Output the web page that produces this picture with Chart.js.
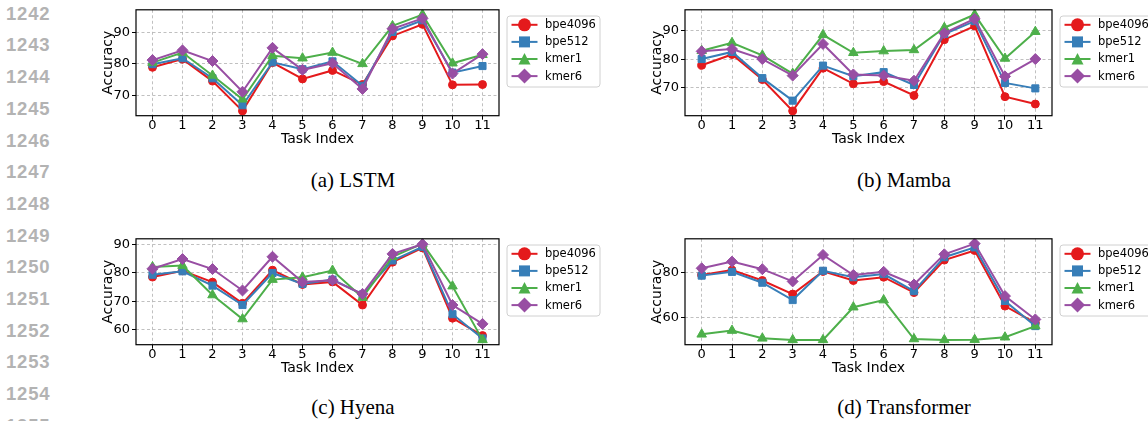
<!DOCTYPE html>
<html>
<head>
<meta charset="utf-8">
<script src="https://cdn.jsdelivr.net/npm/chart.js@4.4.0/dist/chart.umd.min.js"></script>
<style>
  body { margin: 0; background: #fff; width: 1148px; height: 421px; overflow: hidden; position: relative; }
  canvas { position: absolute; }
  .lineno { position: absolute; left: 6px; font: bold 18.5px 'Liberation Sans', sans-serif; letter-spacing: 0.8px; color: #b3b3b3; line-height: 18px; margin-top: -9px; }
  .caption { position: absolute; font: 21px 'Liberation Serif', serif; color: #000; transform: translate(-50%, -50%); white-space: nowrap; }
</style>
</head>
<body>
<canvas id="lstm" width="520" height="150" style="left:90px; top:0px"></canvas>
<canvas id="mamba" width="509" height="150" style="left:639px; top:0px"></canvas>
<canvas id="hyena" width="520" height="150" style="left:90px; top:229px"></canvas>
<canvas id="transformer" width="509" height="150" style="left:639px; top:229px"></canvas>
<div class="caption" style="left:353px; top:180px">(a) LSTM</div>
<div class="caption" style="left:904px; top:180px">(b) Mamba</div>
<div class="caption" style="left:353px; top:407px">(c) Hyena</div>
<div class="caption" style="left:904px; top:407px">(d) Transformer</div>
<script>
// values
const taskIndex = [0, 1, 2, 3, 4, 5, 6, 7, 8, 9, 10, 11];
const seriesNames = ['bpe4096', 'bpe512', 'kmer1', 'kmer6'];

const lstmBpe4096 = [78.9, 81.5, 74.5, 65.0, 80.4, 75.2, 77.9, 73.4, 88.9, 92.6, 73.3, 73.4];
const lstmBpe512  = [79.9, 81.8, 75.4, 66.8, 80.5, 78.3, 80.8, 73.0, 90.2, 93.9, 77.2, 79.3];
const lstmKmer1   = [80.4, 83.6, 76.3, 68.7, 82.6, 81.8, 83.6, 80.0, 92.1, 95.7, 80.2, 82.9];
const lstmKmer6   = [81.2, 84.3, 80.9, 71.1, 85.1, 78.1, 80.2, 72.0, 91.2, 94.5, 76.9, 83.1];

const mambaBpe4096 = [77.9, 81.7, 72.9, 61.9, 76.9, 71.4, 72.2, 67.3, 86.9, 91.7, 66.9, 64.3];
const mambaBpe512  = [80.1, 82.6, 73.4, 65.5, 77.8, 74.1, 75.5, 71.0, 88.9, 93.4, 71.7, 69.8];
const mambaKmer1   = [83.0, 85.8, 81.4, 75.0, 88.6, 82.3, 82.9, 83.3, 91.1, 95.7, 80.3, 89.7];
const mambaKmer6   = [82.8, 83.6, 80.1, 74.3, 85.4, 74.7, 74.3, 72.5, 89.2, 94.2, 74.0, 80.1];

const hyenaBpe4096 = [78.5, 80.7, 76.7, 69.3, 80.9, 75.9, 76.8, 68.7, 83.7, 88.7, 64.1, 58.0];
const hyenaBpe512  = [79.3, 80.5, 75.5, 68.7, 79.9, 76.1, 77.6, 72.4, 84.3, 89.1, 65.5, 57.0];
const hyenaKmer1   = [82.0, 82.5, 72.2, 63.8, 77.6, 78.4, 80.8, 71.3, 85.6, 90.2, 75.3, 56.5];
const hyenaKmer6   = [81.4, 84.8, 81.3, 73.8, 85.6, 76.8, 77.4, 72.6, 86.6, 90.0, 68.7, 62.1];

const transBpe4096 = [79.0, 81.2, 76.5, 70.4, 80.6, 76.5, 78.0, 71.1, 85.7, 90.0, 65.0, 57.5];
const transBpe512  = [78.7, 80.4, 75.5, 67.7, 80.9, 78.0, 79.4, 71.7, 87.0, 91.4, 67.3, 56.0];
const transKmer1   = [52.3, 54.0, 50.5, 49.8, 49.8, 64.5, 67.7, 50.2, 49.8, 49.9, 51.0, 56.0];
const transKmer6   = [82.0, 85.0, 81.6, 76.1, 88.0, 79.0, 80.4, 74.7, 88.3, 93.1, 69.5, 59.0];

const colors = ['#e41a1c', '#377eb8', '#4daf4a', '#984ea3'];
const markers = ['circle', 'rect', 'triangle', 'rectRot'];
const markerSize = [4, 5, 5.5, 5.5];

Chart.defaults.font.family = 'DejaVu Sans';
Chart.defaults.color = '#000';

// line numbers down the left margin
for (let i = 0; i < 14; i++) {
  const d = document.createElement('div');
  d.className = 'lineno';
  d.style.top = (13.7 + i * 31.7) + 'px';
  d.textContent = String(1242 + i);
  document.body.appendChild(d);
}

function drawMarker(ctx, style, x, y) {
  ctx.beginPath();
  if (style === 'circle') {
    ctx.arc(x, y, 6.5, 0, Math.PI * 2);
  } else if (style === 'rect') {
    ctx.rect(x - 5.5, y - 5.5, 11, 11);
  } else if (style === 'triangle') {
    ctx.moveTo(x, y - 6); ctx.lineTo(x + 6, y + 5.5); ctx.lineTo(x - 6, y + 5.5); ctx.closePath();
  } else {
    ctx.moveTo(x, y - 7.5); ctx.lineTo(x + 7.5, y); ctx.lineTo(x, y + 7.5); ctx.lineTo(x - 7.5, y); ctx.closePath();
  }
  ctx.fill();
}

// frame around the plot area + matplotlib style legend box
const framePlugin = {
  id: 'frame',
  afterDatasetsDraw(chart) {
    const { ctx, chartArea: a } = chart;
    ctx.save();
    ctx.strokeStyle = '#000';
    ctx.lineWidth = 1.2;
    ctx.strokeRect(a.left, a.top, a.right - a.left, a.bottom - a.top);
    ctx.restore();
  },
  afterDraw(chart) {
    const { ctx, chartArea: a } = chart;
    const x0 = a.right + 7.5, y0 = a.top + 5.7;
    ctx.save();
    ctx.fillStyle = 'rgba(255,255,255,0.8)';
    ctx.strokeStyle = '#d0d0d0';
    ctx.lineWidth = 1;
    ctx.beginPath();
    ctx.roundRect(x0 + 0.5, y0 + 0.5, 93, 71, 3);
    ctx.fill();
    ctx.stroke();
    chart.data.datasets.forEach((ds, i) => {
      const y = y0 + 9.3 + i * 17.1;
      ctx.strokeStyle = ds.borderColor;
      ctx.lineWidth = 2;
      ctx.beginPath();
      ctx.moveTo(x0 + 5, y);
      ctx.lineTo(x0 + 31, y);
      ctx.stroke();
      ctx.fillStyle = ds.borderColor;
      drawMarker(ctx, markers[i], x0 + 18, y);
      ctx.fillStyle = '#000';
      ctx.font = '11.5px DejaVu Sans';
      ctx.textBaseline = 'middle';
      ctx.fillText(ds.label, x0 + 38.5, y + 0.5);
    });
    ctx.restore();
  }
};

function makeChart(id, series, step, padRight) {
  const all = series.flat();
  const lo = Math.min(...all), hi = Math.max(...all);
  const m = (hi - lo) * 0.05;
  const datasets = series.map((vals, i) => ({
    label: seriesNames[i],
    data: vals.map((v, j) => ({ x: taskIndex[j], y: v })),
    borderColor: colors[i],
    backgroundColor: colors[i],
    borderWidth: 2,
    pointStyle: markers[i],
    pointRadius: markerSize[i],
    pointBorderWidth: 1,
    order: 4 - i,
    tension: 0
  }));
  const grid = {
    color: '#b0b0b0',
    lineWidth: 0.8,
    tickLength: 4,
    tickColor: '#000',
    tickWidth: 1,
    tickBorderDash: []
  };
  const border = { display: false, dash: [3, 2.5] };
  return new Chart(document.getElementById(id), {
    type: 'line',
    data: { datasets },
    plugins: [framePlugin],
    options: {
      responsive: false,
      animation: false,
      devicePixelRatio: 1,
      layout: { padding: { top: 9.3, right: padRight, left: 0, bottom: 0 } },
      plugins: { legend: { display: false }, tooltip: { enabled: false } },
      scales: {
        x: {
          type: 'linear',
          min: taskIndex[0] - 0.55,
          max: taskIndex[taskIndex.length - 1] + 0.55,
          grid,
          border,
          ticks: { stepSize: 1, includeBounds: false, padding: -0.5, font: { size: 13, lineHeight: 1 } },
          afterBuildTicks: s => { s.ticks = s.ticks.filter(t => Number.isInteger(t.value)); },
          afterFit: s => { s.height = 34.3; },
          title: { display: true, text: 'Task Index', font: { size: 14 }, padding: { top: 0, bottom: 2.6 } }
        },
        y: {
          min: lo - m,
          max: hi + m,
          grid,
          border,
          ticks: { stepSize: step, includeBounds: false, padding: 2, font: { size: 13 } },
          afterBuildTicks: s => { s.ticks = s.ticks.filter(t => t.value % step === 0); },
          afterFit: s => { s.width = 46; },
          title: { display: true, text: 'Accuracy', font: { size: 14 }, padding: { top: 10, bottom: 0 } }
        }
      }
    }
  });
}

makeChart('lstm', [lstmBpe4096, lstmBpe512, lstmKmer1, lstmKmer6], 10, 111);
makeChart('mamba', [mambaBpe4096, mambaBpe512, mambaKmer1, mambaKmer6], 10, 96);
makeChart('hyena', [hyenaBpe4096, hyenaBpe512, hyenaKmer1, hyenaKmer6], 10, 111);
makeChart('transformer', [transBpe4096, transBpe512, transKmer1, transKmer6], 20, 96);
</script>
</body>
</html>
